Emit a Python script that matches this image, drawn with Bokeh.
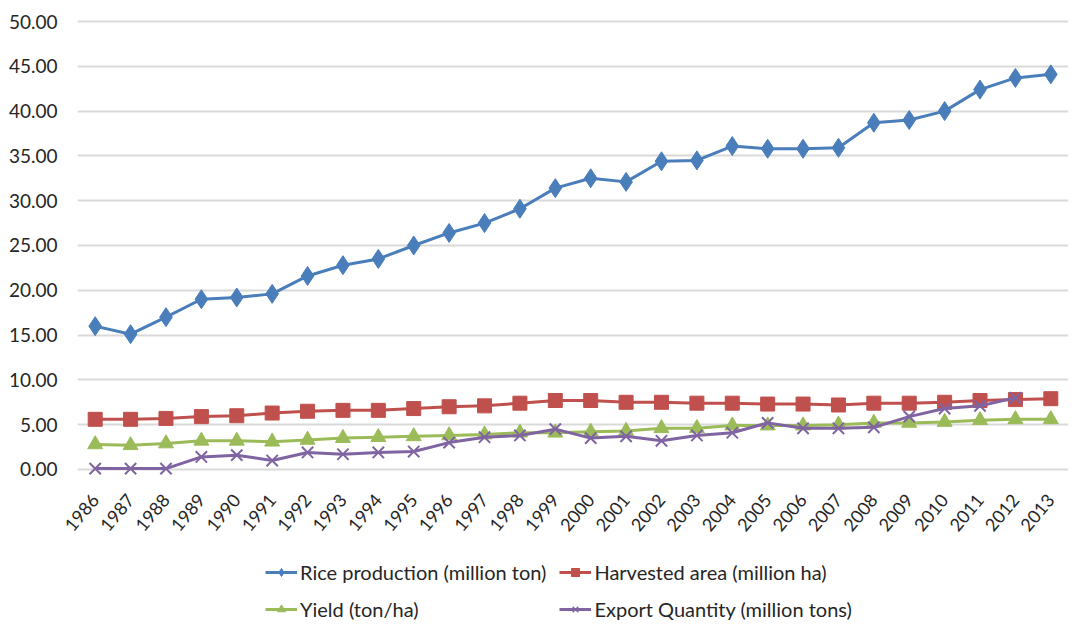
import math
from bokeh.plotting import figure
from bokeh.layouts import column
from bokeh.models import Range1d, FixedTicker, Legend, LegendItem, NumeralTickFormatter
from bokeh.embed import file_html
from bokeh.resources import INLINE

years = list(range(1986, 2014))
rice_production = [16.0, 15.1, 17.0, 19.0, 19.2, 19.6, 21.6, 22.8, 23.5, 25.0,
                   26.4, 27.5, 29.1, 31.4, 32.5, 32.1, 34.4, 34.5, 36.1, 35.8,
                   35.8, 35.9, 38.7, 39.0, 40.0, 42.4, 43.7, 44.1]
harvested_area = [5.6, 5.6, 5.7, 5.9, 6.0, 6.3, 6.5, 6.6, 6.6, 6.8,
                  7.0, 7.1, 7.4, 7.7, 7.7, 7.5, 7.5, 7.4, 7.4, 7.3,
                  7.3, 7.2, 7.4, 7.4, 7.5, 7.7, 7.8, 7.9]
yield_t_ha = [2.8, 2.7, 2.9, 3.2, 3.2, 3.1, 3.3, 3.5, 3.6, 3.7,
              3.8, 3.9, 4.1, 4.1, 4.2, 4.3, 4.6, 4.6, 4.9, 4.9,
              4.9, 5.0, 5.2, 5.2, 5.3, 5.5, 5.6, 5.6]
export_years = list(range(1986, 2013))
export_quantity = [0.1, 0.1, 0.1, 1.4, 1.6, 1.0, 1.9, 1.7, 1.9, 2.0,
                   3.0, 3.6, 3.8, 4.5, 3.5, 3.7, 3.2, 3.8, 4.1, 5.2,
                   4.6, 4.6, 4.7, 5.9, 6.8, 7.1, 8.0]
y_ticks = [0, 5, 10, 15, 20, 25, 30, 35, 40, 45, 50]
series_names = ["Rice production (million ton)", "Harvested area (million ha)",
                "Yield (ton/ha)", "Export Quantity (million tons)"]

FONT = "Lato"
TXT = "#262626"
BLUE = "#4a7ebb"
RED = "#c0504d"
GREEN = "#9bbb59"
PURPLE = "#8064a2"
styles = [
    dict(color=BLUE, marker="diamond", size=19),
    dict(color=RED, marker="square", size=14),
    dict(color=GREEN, marker="triangle", size=15),
    dict(color=PURPLE, marker="x", size=16),
]
all_x = [years, years, years, export_years]
all_y = [rice_production, harvested_area, yield_t_ha, export_quantity]

p = figure(width=1079, height=560, output_backend="svg", toolbar_location=None,
           x_range=Range1d(1985.5, 2013.5), y_range=Range1d(-1.23, 50.67),
           min_border_left=77, min_border_right=11, min_border_top=15,
           min_border_bottom=80)
p.outline_line_color = None
p.xgrid.visible = False
p.ygrid.grid_line_color = "#d9d9d9"
p.ygrid.grid_line_width = 2
p.ygrid.ticker = FixedTicker(ticks=y_ticks)

p.yaxis.ticker = FixedTicker(ticks=y_ticks)
p.yaxis.formatter = NumeralTickFormatter(format="0.00")
p.yaxis.axis_line_color = None
p.yaxis.major_tick_line_color = None
p.yaxis.minor_tick_line_color = None
p.yaxis.major_label_text_font = FONT
p.yaxis.major_label_text_font_size = "19px"
p.yaxis.major_label_text_color = TXT
p.yaxis.major_label_standoff = 14

p.xaxis.ticker = FixedTicker(ticks=years)
p.xaxis.axis_line_color = None
p.xaxis.major_tick_line_color = None
p.xaxis.minor_tick_line_color = None
p.xaxis.major_label_orientation = 0.873
p.xaxis.major_label_text_font = FONT
p.xaxis.major_label_text_font_size = "18px"
p.xaxis.major_label_text_color = TXT
p.xaxis.major_label_standoff = 10

for xs, ys, st in zip(all_x, all_y, styles):
    p.line(xs, ys, line_color=st["color"], line_width=3)
    if st["marker"] == "x":
        p.scatter(xs, ys, marker="x", size=st["size"], line_color=st["color"], line_width=2)
    else:
        p.scatter(xs, ys, marker=st["marker"], size=st["size"], color=st["color"])

# legend panel: same series drawn out of view, only their legend swatches show
lg = figure(width=1079, height=66, output_backend="svg", toolbar_location=None,
            x_range=Range1d(0, 1), y_range=Range1d(0, 1),
            min_border_left=0, min_border_right=0, min_border_top=0, min_border_bottom=0)
lg.outline_line_color = None
lg.axis.visible = False
lg.grid.visible = False
items = []
for name, xs, ys, st in zip(series_names, all_x, all_y, styles):
    rl = lg.line(xs, ys, line_color=st["color"], line_width=3)
    if st["marker"] == "x":
        rm = lg.scatter(xs, ys, marker="x", size=12, line_color=st["color"], line_width=1.5)
    else:
        rm = lg.scatter(xs, ys, marker=st["marker"], size=11, color=st["color"])
    items.append(LegendItem(label=name, renderers=[rl, rm], index=0))

legend = Legend(items=items, ncols=2, orientation="horizontal", location=(188, 5),
                border_line_color=None, background_fill_alpha=0,
                label_text_font=FONT, label_text_font_size="20px", label_text_color=TXT,
                glyph_width=32, label_standoff=3, spacing=13, padding=0, margin=0)
lg.add_layout(legend, "center")

layout = column(p, lg, spacing=0)
open("out.html", "w").write(file_html(layout, INLINE))
